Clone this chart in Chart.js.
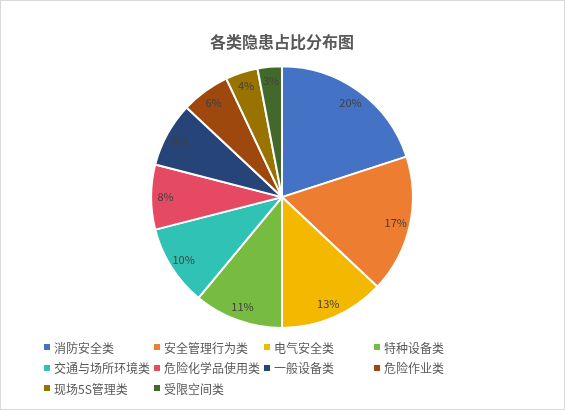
<!DOCTYPE html>
<html>
<head>
<meta charset="utf-8">
<script src="https://cdn.jsdelivr.net/npm/chart.js@4/dist/chart.umd.min.js"></script>
<style>
  html, body { margin: 0; padding: 0; background: #fff; }
  #wrap {
    position: relative; width: 565px; height: 410px;
    box-sizing: border-box; border: 1px solid #d9d9d9; overflow: hidden;
  }
  #chart { position: absolute; left: -1px; top: -1px; }
  #legend {
    position: absolute; left: 43px; top: 336px; width: 480px;
    font-family: "Noto Sans CJK SC", sans-serif; font-size: 12px; color: #595959;
    display: grid; grid-template-columns: 110px 110px 110px 110px; grid-auto-rows: 20.5px;
  }
  #legend .item { display: flex; align-items: center; white-space: nowrap; }
  #legend .box { width: 6px; height: 6px; margin-right: 4px; flex: none; }
</style>
</head>
<body>
<div id="wrap">
  <canvas id="chart" width="565" height="410"></canvas>
  <div id="legend"></div>
</div>
<script>
var categories = ['消防安全类', '安全管理行为类', '电气安全类', '特种设备类', '交通与场所环境类',
  '危险化学品使用类', '一般设备类', '危险作业类', '现场5S管理类', '受限空间类'];
var shares = [20, 17, 13, 11, 10, 8, 8, 6, 4, 3];
var colors = ['#4472C4', '#ED7D31', '#F4B800', '#77BB41', '#30C2B4',
  '#E64A63', '#264478', '#9E480E', '#997300', '#43682B'];

// percentage text on each slice
var sliceLabels = {
  id: 'sliceLabels',
  afterDatasetsDraw: function (chart) {
    var ctx = chart.ctx;
    var meta = chart.getDatasetMeta(0);
    ctx.save();
    ctx.font = '11px "Noto Sans CJK SC", sans-serif';
    ctx.fillStyle = '#404040';
    ctx.textAlign = 'center';
    ctx.textBaseline = 'middle';
    meta.data.forEach(function (arc, i) {
      var p = arc.getProps(['x', 'y', 'startAngle', 'endAngle', 'outerRadius']);
      var mid = (p.startAngle + p.endAngle) / 2;
      var r = p.outerRadius * 0.89;
      ctx.fillText(shares[i] + '%', p.x + Math.cos(mid) * r, p.y + Math.sin(mid) * r);
    });
    ctx.restore();
  }
};

new Chart(document.getElementById('chart').getContext('2d'), {
  type: 'pie',
  data: {
    labels: categories,
    datasets: [{
      data: shares,
      backgroundColor: colors,
      borderColor: '#ffffff',
      borderWidth: 2
    }]
  },
  options: {
    responsive: false,
    animation: false,
    devicePixelRatio: 1,
    layout: { padding: { left: 150, right: 151, top: 0, bottom: 81 } },
    plugins: {
      legend: { display: false },
      tooltip: { enabled: false },
      title: {
        display: true,
        text: '各类隐患占比分布图',
        color: '#595959',
        font: { family: '"Noto Sans CJK SC", sans-serif', size: 16, weight: 'bold' },
        padding: { top: 32, bottom: 14 }
      }
    }
  },
  plugins: [sliceLabels]
});

// legend in four fixed columns
var legendHTML = '';
for (var i = 0; i < categories.length; i++) {
  legendHTML += '<div class="item"><span class="box" style="background:' + colors[i] + '"></span>' + categories[i] + '</div>';
}
document.getElementById('legend').innerHTML = legendHTML;
</script>
</body>
</html>
